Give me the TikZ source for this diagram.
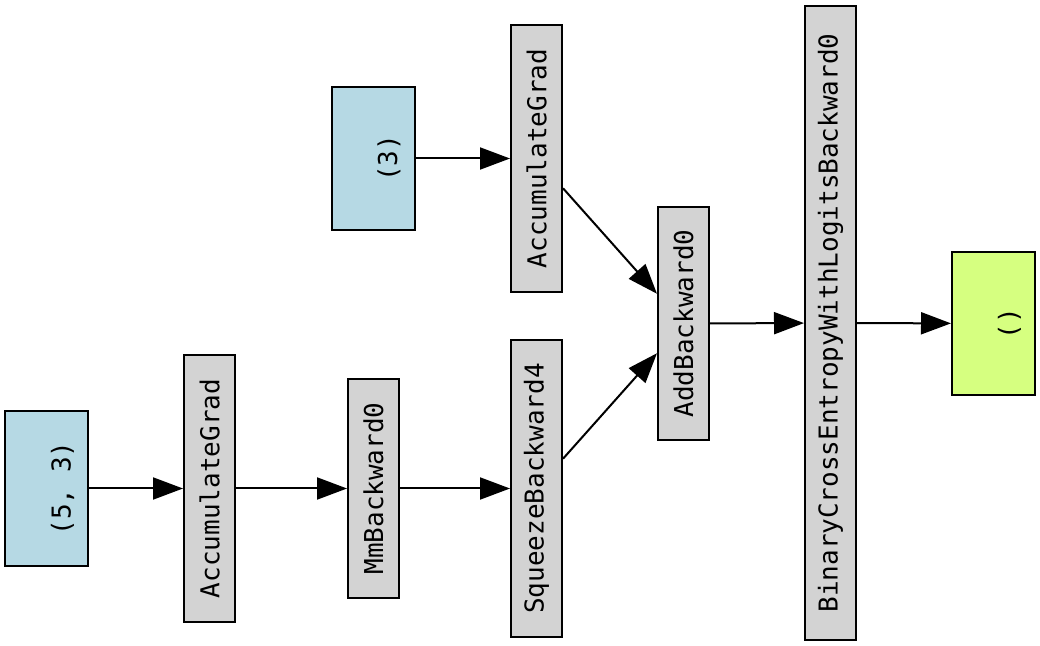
\documentclass[tikz,border=0pt]{standalone}
\usepackage{fontspec}
\setmonofont{DejaVu Sans Mono}
\usetikzlibrary{arrows.meta}

\definecolor{paramblue}{HTML}{B6D9E4}
\definecolor{opgrey}{HTML}{D3D3D3}
\definecolor{outgreen}{HTML}{D6FF80}

\begin{document}
\begin{tikzpicture}[x=0.5pt, y=-0.5pt,
    op/.style={draw=black, line width=1pt, fill=opgrey, rotate=90,
        minimum height=25.5pt, inner sep=0pt,
        font=\ttfamily\fontsize{13}{15}\selectfont},
    tensor/.style={op, minimum height=41.5pt, text height=7pt, text depth=2pt},
    flow/.style={-{Triangle[length=15pt,width=11pt]}, line width=1pt}]
    \useasboundingbox (0,0) rectangle (1040,646);

    % weight branch
    \node[tensor, fill=paramblue, minimum width=77.5pt] (weight) at (46.5,488.5) {\raisebox{-9.5pt}{(5, 3)}};
    \node[op, minimum width=133.5pt] (accweight) at (209.5,488.5) {AccumulateGrad};
    \node[op, minimum width=109.5pt] (mm) at (373.5,488.5) {MmBackward0};
    \node[op, minimum width=148.5pt] (squeeze) at (536.5,488.5) {SqueezeBackward4};

    % bias branch
    \node[tensor, fill=paramblue, minimum width=71.5pt] (bias) at (373,158.5) {\raisebox{-9.5pt}{(3)}};
    \node[op, minimum width=133.5pt] (accbias) at (536.5,158.5) {AccumulateGrad};

    % loss
    \node[op, minimum width=116.5pt] (add) at (683.5,323.5) {AddBackward0};
    \node[op, minimum width=317pt] (bce) at (830.5,323) {BinaryCrossEntropyWithLogitsBackward0};
    \node[tensor, fill=outgreen, minimum width=71.5pt] (loss) at (993.5,323.5) {\raisebox{-9.5pt}{()}};

    \draw[flow] (weight) -- (accweight);
    \draw[flow] (accweight) -- (mm);
    \draw[flow] (mm) -- (squeeze);
    \draw[flow] (bias) -- (accbias);
    \draw[flow] (accbias) -- (add);
    \draw[flow] (squeeze) -- (add);
    \draw[flow] (add) -- (bce);
    \draw[flow] (bce) -- (loss);
\end{tikzpicture}
\end{document}
